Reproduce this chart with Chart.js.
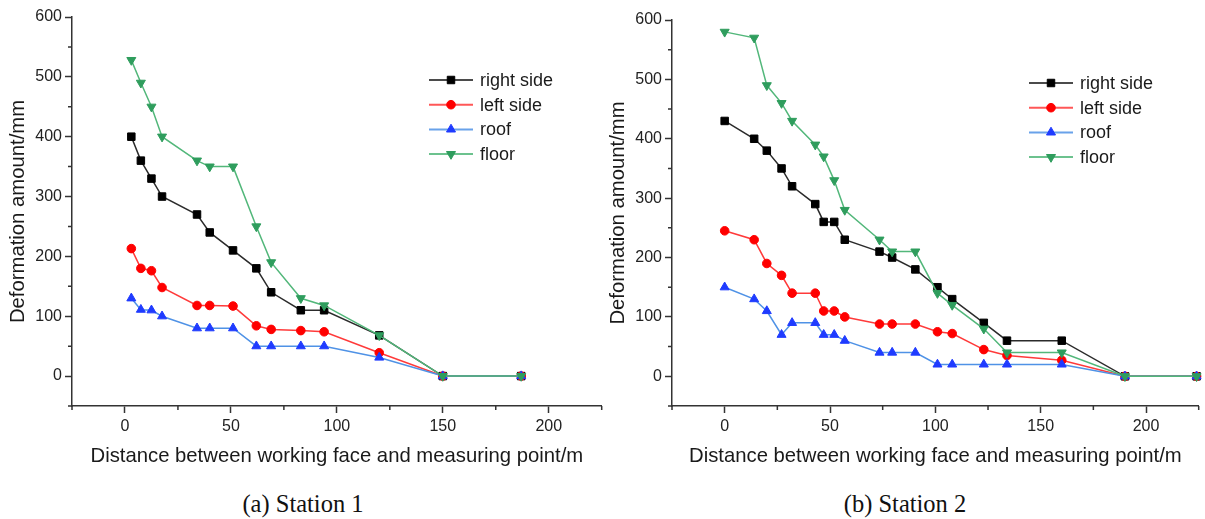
<!doctype html>
<html lang="en">
  <head>
    <meta charset="utf-8">
    <title>Deformation vs distance</title>
    <style>
      * { margin: 0; padding: 0; }
      body { background: #fff; width: 1205px; height: 519px; position: relative; overflow: hidden; }
      .box { position: absolute; top: 0; }
      .caption {
        position: absolute;
        top: 490px;
        width: 300px;
        text-align: center;
        font-family: 'Liberation Serif', 'Times New Roman', serif;
        font-size: 24.5px;
        color: #111;
      }
    </style>
  </head>
  <body>
    <div class="box" style="left:0px"><canvas id="chart1" width="608" height="470"></canvas></div>
    <div class="box" style="left:602px"><canvas id="chart2" width="603" height="470"></canvas></div>
    <div class="caption" style="left:153px">(a) Station 1</div>
    <div class="caption" style="left:755px">(b) Station 2</div>

    <script src="https://cdn.jsdelivr.net/npm/chart.js"></script>
    <script>
    // series names
    const seriesNames = ['right side', 'left side', 'roof', 'floor'];

    // station 1
    const dist1 = [3, 7.5, 12.5, 17.5, 34, 40, 51, 62, 69, 83, 94, 120, 150, 187];
    const right1 = [400, 360, 330, 300, 270, 240, 210, 180, 140, 110, 110, 68, 0, 0];
    const left1 = [213, 180, 176, 148, 118, 118, 117, 84, 78, 76, 74, 39, 0, 0];
    const roof1 = [130, 111, 110, 100, 80, 80, 80, 50, 50, 50, 50, 31, 0, 0];
    const floor1 = [528, 490, 450, 400, 360, 350, 350, 250, 190, 130, 118, 68, 0, 0];

    // station 2
    const dist2 = [0, 14, 20, 27, 32, 43, 47, 52, 57, 73.5, 79.5, 90.5, 101, 108, 123, 134, 160, 190, 224];
    const right2 = [430, 400, 380, 350, 320, 290, 260, 260, 230, 210, 200, 180, 150, 130, 90, 60, 60, 0, 0];
    const left2 = [245, 230, 190, 170, 140, 140, 110, 110, 100, 88, 88, 88, 75, 72, 45, 35, 27, 0, 0];
    const roof2 = [150, 130, 110, 70, 90, 90, 70, 70, 60, 40, 40, 40, 20, 20, 20, 20, 20, 0, 0];
    const floor2 = [580, 570, 490, 460, 430, 390, 370, 330, 280, 230, 210, 210, 140, 120, 80, 40, 40, 0, 0];

    // axis ticks
    const xTicks = [0, 50, 100, 150, 200];
    const xMinor = [-25, 25, 75, 125, 175, 225];
    const yTicks = [0, 100, 200, 300, 400, 500, 600];
    const yMinor = [-50, 50, 150, 250, 350, 450, 550];

    const styles = [
      { line: '#2b2b2b', fill: '#000000', pointStyle: 'rect', radius: 5.3, rotation: 0, order: 4 },
      { line: '#ff3a3a', fill: '#ff0000', pointStyle: 'circle', radius: 4.3, rotation: 0, order: 3 },
      { line: '#4f92e6', fill: '#1f3bff', pointStyle: 'triangle', radius: 5.2, rotation: 0, order: 2 },
      { line: '#52b77a', fill: '#2f9d5d', pointStyle: 'triangle', radius: 5.2, rotation: 180, order: 1 }
    ];

    Chart.defaults.font.family = "'Liberation Sans', Arial, sans-serif";
    Chart.defaults.color = '#222';

    function pairs(xs, ys) {
      return xs.map((x, i) => ({ x: x, y: ys[i] }));
    }

    // short minor ticks between the labelled ones
    const minorTicks = {
      id: 'minorTicks',
      afterDraw(chart) {
        const ctx = chart.ctx;
        const xs = chart.scales.x, ys = chart.scales.y;
        const a = chart.chartArea;
        ctx.save();
        ctx.strokeStyle = '#333';
        ctx.lineWidth = 1.5;
        ctx.beginPath();
        xMinor.forEach(v => {
          const px = xs.getPixelForValue(v);
          ctx.moveTo(px, a.bottom);
          ctx.lineTo(px, a.bottom + 4);
        });
        yMinor.forEach(v => {
          const py = ys.getPixelForValue(v);
          ctx.moveTo(a.left - 4, py);
          ctx.lineTo(a.left, py);
        });
        ctx.stroke();
        ctx.restore();
      }
    };

    // legend: a line with the marker in the middle
    const lineLegend = {
      id: 'lineLegend',
      afterDraw(chart) {
        const ctx = chart.ctx;
        const a = chart.chartArea;
        const x0 = a.left + 357;
        let y = a.top + 63;
        ctx.save();
        chart.data.datasets.forEach((ds, i) => {
          const s = styles[i];
          ctx.strokeStyle = s.line;
          ctx.globalAlpha = 0.85;
          ctx.lineWidth = 2;
          ctx.beginPath();
          ctx.moveTo(x0, y);
          ctx.lineTo(x0 + 44, y);
          ctx.stroke();
          ctx.globalAlpha = 1;
          ctx.fillStyle = s.fill;
          ctx.strokeStyle = s.fill;
          ctx.lineWidth = 1;
          Chart.helpers.drawPoint(ctx, { pointStyle: s.pointStyle, rotation: s.rotation, radius: s.radius, borderWidth: 1 }, x0 + 22, y);
          ctx.fillStyle = '#1a1a1a';
          ctx.font = "18px 'Liberation Sans', Arial, sans-serif";
          ctx.textBaseline = 'middle';
          ctx.textAlign = 'left';
          ctx.fillText(ds.label, x0 + 51, y + 1);
          y += 24.7;
        });
        ctx.restore();
      }
    };

    function makeChart(id, dist, series, opts) {
      const datasets = series.map((vals, i) => ({
        label: seriesNames[i],
        data: pairs(dist, vals),
        borderColor: styles[i].line,
        backgroundColor: styles[i].fill,
        borderWidth: 1.5,
        pointStyle: styles[i].pointStyle,
        pointRotation: styles[i].rotation,
        pointRadius: styles[i].radius,
        pointBackgroundColor: styles[i].fill,
        pointBorderColor: styles[i].fill,
        pointBorderWidth: 1,
        order: styles[i].order,
        clip: false,
        tension: 0
      }));

      return new Chart(document.getElementById(id), {
        type: 'line',
        data: { datasets },
        options: {
          responsive: false,
          animation: false,
          layout: { padding: { top: opts.top, right: opts.right, bottom: 1, left: 0 } },
          plugins: { legend: { display: false }, tooltip: { enabled: false } },
          scales: {
            x: {
              type: 'linear',
              min: -25,
              max: 225,
              afterBuildTicks: s => { s.ticks = xTicks.map(v => ({ value: v })); },
              afterFit: s => { s.height = 63; },
              grid: { drawOnChartArea: false, tickLength: 7, tickColor: '#333', tickWidth: 1.5 },
              border: { color: '#333', width: 1.5 },
              ticks: { padding: 4, font: { size: 16 }, color: '#222', maxRotation: 0 },
              title: {
                display: true,
                text: 'Distance between working face and measuring point/m',
                font: { size: 20.3 },
                color: '#1a1a1a',
                padding: { top: 0, bottom: 0 }
              }
            },
            y: {
              min: -50,
              max: 600,
              afterBuildTicks: s => { s.ticks = yTicks.map(v => ({ value: v })); },
              afterFit: s => { s.width = opts.yWidth; },
              grid: { drawOnChartArea: false, tickLength: 7, tickColor: '#333', tickWidth: 1.5 },
              border: { color: '#333', width: 1.5 },
              ticks: { padding: 3, font: { size: 16 }, color: '#222' },
              title: {
                display: true,
                text: 'Deformation amount/mm',
                font: { size: 20.3 },
                color: '#1a1a1a',
                padding: { top: opts.titlePad, bottom: 0 }
              }
            }
          }
        },
        plugins: [minorTicks, lineLegend]
      });
    }

    makeChart('chart1', dist1, [right1, left1, roof1, floor1], { top: 17, right: 1, yWidth: 72, titlePad: 6 });
    makeChart('chart2', dist2, [right2, left2, roof2, floor2], { top: 20, right: 3, yWidth: 70, titlePad: 4 });
    </script>
  </body>
</html>
